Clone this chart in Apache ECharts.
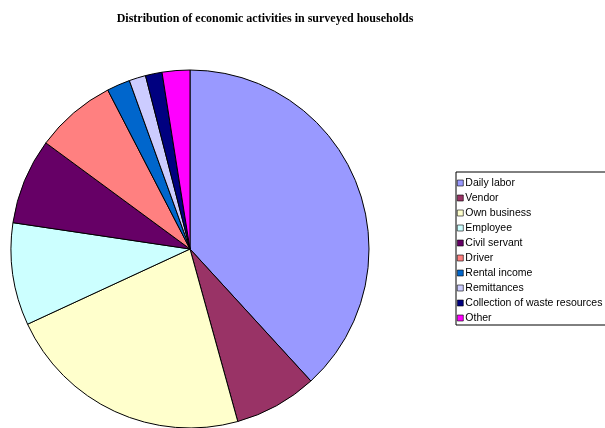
<!DOCTYPE html>
<html>
<head>
<meta charset="utf-8">
<script src="https://cdn.jsdelivr.net/npm/echarts@6/dist/echarts.min.js"></script>
<style>
  html, body { margin: 0; padding: 0; background: #fff; }
  #chart { width: 605px; height: 428px; }
</style>
</head>
<body>
<div id="chart"></div>
<script>
// share of households per activity (%)
var activities = ['Daily labor', 'Vendor', 'Own business', 'Employee', 'Civil servant',
  'Driver', 'Rental income', 'Remittances', 'Collection of waste resources', 'Other'];
var shares = [38.2, 7.5, 22.4, 9.25, 7.75, 7.3, 2.1, 1.5, 1.5, 2.5];
var colors = ['#9999FF', '#993366', '#FFFFCC', '#CCFFFF', '#660066',
  '#FF8080', '#0066CC', '#CCCCFF', '#000080', '#FF00FF'];

var chart = echarts.init(document.getElementById('chart'));

var pieData = activities.map(function (name, i) {
  return { name: name, value: shares[i], itemStyle: { color: colors[i] } };
});

chart.setOption({
  animation: false,
  title: {
    text: 'Distribution of economic activities in surveyed households',
    left: 260,
    textAlign: 'center',
    top: 8,
    textStyle: { fontFamily: 'Liberation Serif', fontSize: 12, fontWeight: 'bold', color: '#000' }
  },
  legend: {
    orient: 'vertical',
    left: 456,
    top: 172,
    padding: [5, 8, 1, 1],
    itemGap: 3,
    itemWidth: 6,
    itemHeight: 6,
    icon: 'rect',
    borderColor: '#000',
    borderWidth: 1,
    itemStyle: { borderColor: '#000', borderWidth: 0.6 },
    textStyle: { fontFamily: 'Liberation Sans', fontSize: 10.5, color: '#000', lineHeight: 12, padding: [0, 0, 0, -3] },
    data: activities
  },
  series: [{
    type: 'pie',
    center: [190, 249],
    radius: 179,
    startAngle: 90,
    clockwise: true,
    label: { show: false },
    labelLine: { show: false },
    itemStyle: { borderColor: '#000', borderWidth: 1 },
    emphasis: { disabled: true },
    data: pieData
  }]
});
</script>
</body>
</html>
